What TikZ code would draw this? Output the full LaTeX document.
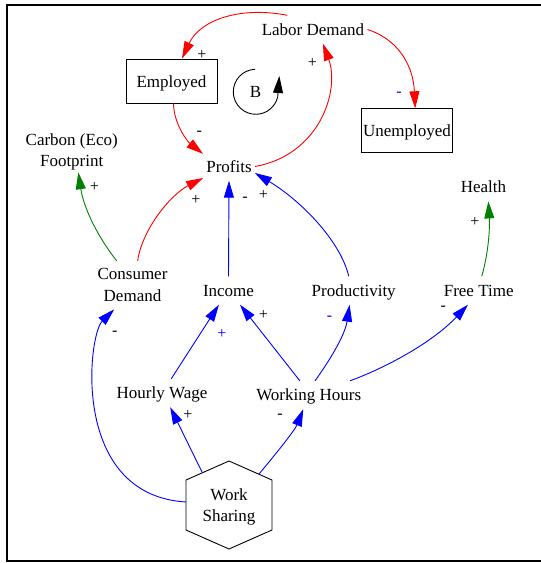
\documentclass[tikz,border=0pt]{standalone}
\usepackage{fontspec}
\setmainfont{Liberation Serif}
\usetikzlibrary{arrows.meta}
\definecolor{cldgreen}{RGB}{0,128,0}
\tikzset{
  basefont/.style={font=\fontsize{17}{21.7}\selectfont},
  var/.style={basefont, inner xsep=3pt, inner ysep=8.5pt, text height=11pt, text depth=0pt},
  vartwo/.style={basefont, align=center, inner xsep=3pt},
  stock/.style={basefont, draw, line width=1pt, minimum width=91pt, minimum height=44pt, text height=12pt, text depth=0pt, inner sep=0pt},
  sgn/.style={font=\fontsize{16}{18}\selectfont, inner sep=0pt},
  link/.style={line width=0.9pt, -{Triangle[length=17pt,width=10pt]}},
  rlink/.style={link, red},
  blink/.style={link, blue},
  glink/.style={link, cldgreen},
  hexa/.style={line width=0.9pt}
}
\begin{document}
\begin{tikzpicture}[x=1pt,y=-1pt]
\useasboundingbox (0,0) rectangle (541,563);
\draw[line width=2pt] (7,5) rectangle (552,561);

% nodes
\node[var] (ld) at (313,29.5) {Labor Demand};
\node[stock] (emp) at (171.5,81) {Employed};
\node[stock] (unemp) at (407,130.8) {Unemployed};
\node[basefont, inner sep=0pt] (bl) at (255.5,92) {B};
\node[var] (prof) at (229,166.5) {Profits};
\node[vartwo, inner ysep=1.5pt] (cf) at (71.7,152) {Carbon (Eco)\\Footprint};
\node[var] (hl) at (483.5,187.2) {Health};
\node[vartwo, inner ysep=7.5pt] (cd) at (132.5,285.1) {Consumer\\Demand};
\node[var] (inc) at (228.5,290.5) {Income};
\node[var] (prod) at (353.7,290.5) {Productivity};
\node[var] (ft) at (478.7,290.5) {Free Time};
\node[var] (hw) at (162,393) {Hourly Wage};
\node[var] (wh) at (308.7,395) {Working Hours};
\node[vartwo] (ws) at (229,506.9) {Work\\Sharing};

% hexagon around Work Sharing
\draw[hexa] (229,461) -- (272,480) -- (272,530) -- (229,549) -- (186,530) -- (186,480) -- cycle;
\coordinate (wsL) at (186,502);
\coordinate (wsUL) at (202,472);
\coordinate (wsUR) at (259,474);

% balancing loop marker
\draw[line width=0.9pt, -{Triangle[length=17pt,width=10pt]}] (255.0,69.3) arc[start angle=268, end angle=13, radius=22.5] -- (279.3,76);

% connectors
\draw[rlink] (ld.151) .. controls (240,6) and (200,20) .. (emp.65);
\draw[rlink] (emp.-85) .. controls (174,125) and (188,142) .. (prof.154);
\draw[rlink] (prof.east) .. controls (320,155) and (340,90) .. (ld.-55);
\draw[rlink] (ld.east) .. controls (395,38) and (413,62) .. (unemp.70);
\draw[rlink] (cd.78) .. controls (142,230) and (170,195) .. (prof.204);
\draw[glink] (cd.123) .. controls (100,240) and (84,210) .. (cf.-72);
\draw[blink] (inc.north) -- (prof.south);
\draw[blink] (prod.109) .. controls (340,240) and (300,200) .. (prof.-14);
\draw[glink] (ft.78) .. controls (488,255) and (490,230) .. (hl.-71);
\draw[blink] (hw.57) -- (inc.-124);
\draw[blink] (wh.122) -- (inc.-51);
\draw[blink] (wh.66) .. controls (330,360) and (345,335) .. (prod.-106);
\draw[blink] (wh.19) .. controls (380,370) and (430,345) .. (ft.-127);
\draw[blink] (wsL) .. controls (70,495) and (88,335) .. (cd.-127);
\draw[blink] (wsUL) -- (hw.-60);
\draw[blink] (wsUR) .. controls (275,455) and (295,430) .. (wh.-111);

% polarity signs
\node[sgn] (s1) at (202,55) {+};
\node[sgn] (s2) at (199.3,133.3) {-};
\node[sgn] (s3) at (312.3,63.3) {+};
\node[sgn, text=blue] (s4) at (399,94.3) {-};
\node[sgn] (s5) at (196,200) {+};
\node[sgn] (s6) at (245,199.5) {-};
\node[sgn] (s7) at (263.3,195) {+};
\node[sgn] (s8) at (94.3,186.7) {+};
\node[sgn] (s9) at (475,221.7) {+};
\node[sgn, text=blue] (s10) at (222,333.5) {+};
\node[sgn] (s11) at (263.3,314.5) {+};
\node[sgn, text=blue] (s12) at (329.5,318.5) {-};
\node[sgn] (s13) at (443.4,308) {-};
\node[sgn] (s14) at (114.9,333) {-};
\node[sgn] (s15) at (188,415) {+};
\node[sgn] (s16) at (280,416) {-};
\end{tikzpicture}
\end{document}
